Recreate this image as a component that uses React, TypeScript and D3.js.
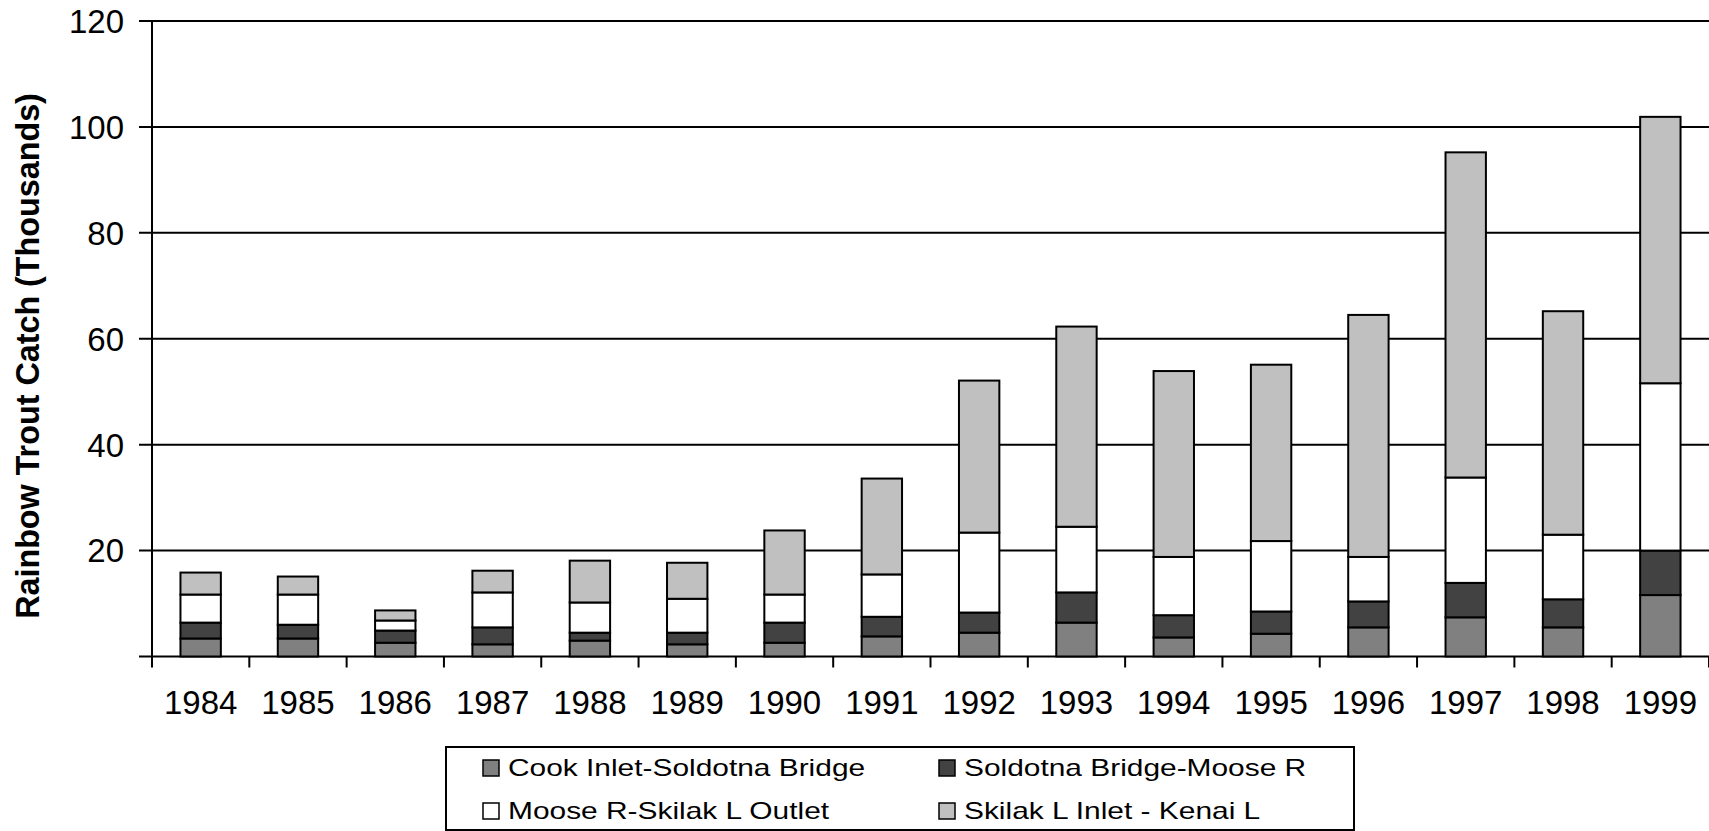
import React, { useEffect } from "react";
import * as d3 from "d3";

const years = ["1984","1985","1986","1987","1988","1989","1990","1991","1992","1993","1994","1995","1996","1997","1998","1999"];
const cookInlet = [3.4,3.4,2.6,2.3,3.0,2.3,2.6,3.8,4.5,6.4,3.6,4.3,5.5,7.4,5.5,11.6];
const soldotnaMoose = [3.0,2.6,2.3,3.2,1.5,2.2,3.8,3.7,3.8,5.7,4.2,4.2,4.9,6.5,5.3,8.4];
const mooseSkilak = [5.3,5.7,1.9,6.6,5.7,6.4,5.3,8.0,15.1,12.4,11.0,13.3,8.4,19.9,12.2,31.6];
const skilakKenai = [4.15,3.4,1.9,4.1,7.9,6.8,12.1,18.1,28.7,37.8,35.1,33.3,45.7,61.4,42.2,50.3];
const seriesNames = ["Cook Inlet-Soldotna Bridge","Soldotna Bridge-Moose R","Moose R-Skilak L Outlet","Skilak L Inlet - Kenai L"];
const seriesColors = ["#808080","#424242","#ffffff","#c0c0c0"];
const yTicks = [0,20,40,60,80,100,120];

const W = 1709, H = 831;
const M = { left: 152, right: 1709, top: 21, bottom: 656.5 };
const FONT = "'Liberation Sans', Arial, sans-serif";

export default function App() {
  useEffect(() => {
    document.body.style.margin = "0";
    document.body.style.overflow = "hidden";
  }, []);

  const rows = years.map((y, i) => ({
    year: y,
    s0: cookInlet[i], s1: soldotnaMoose[i], s2: mooseSkilak[i], s3: skilakKenai[i],
  }));
  const stack = d3.stack<any>().keys(["s0","s1","s2","s3"]);
  const stacked = stack(rows);

  const x = d3.scaleBand().domain(years).range([M.left, M.right]).padding(0);
  const y = d3.scaleLinear().domain([0, 120]).range([M.bottom, M.top]);
  const barW = x.bandwidth() * 0.415;

  return (
    <svg width={W} height={H} style={{ display: "block", background: "#fff" }}>
      {yTicks.map((t) => (
        <g key={t}>
          <line x1={139} x2={M.right} y1={y(t)} y2={y(t)} stroke="#000" strokeWidth={2} />
          {t > 0 && (
            <text x={124} y={y(t)} dy="0.36em" textAnchor="end" fontFamily={FONT} fontSize={33} fill="#000">
              {t}
            </text>
          )}
        </g>
      ))}
      <line x1={M.left} x2={M.left} y1={M.top} y2={M.bottom + 11} stroke="#000" strokeWidth={2} />
      {years.map((yr) => (
        <line key={"t" + yr} x1={(x(yr) as number) + x.bandwidth()} x2={(x(yr) as number) + x.bandwidth()} y1={M.bottom} y2={M.bottom + 11} stroke="#000" strokeWidth={2} />
      ))}
      {stacked.map((s, si) => (
        <g key={si}>
          {s.map((d, i) => {
            const cx = (x(years[i]) as number) + x.bandwidth() / 2;
            return (
              <rect key={i} x={cx - barW / 2} width={barW} y={y(d[1])} height={y(d[0]) - y(d[1])}
                fill={seriesColors[si]} stroke="#000" strokeWidth={2} />
            );
          })}
        </g>
      ))}
      {years.map((yr) => (
        <text key={"l" + yr} x={(x(yr) as number) + x.bandwidth() / 2} y={714} textAnchor="middle"
          fontFamily={FONT} fontSize={33} fill="#000">{yr}</text>
      ))}
      <text transform={`translate(${39},${356}) rotate(-90)`} textAnchor="middle" fontFamily={FONT}
        fontSize={32.3} fontWeight="bold" fill="#000">Rainbow Trout Catch (Thousands)</text>
      <rect x={446} y={747} width={908} height={83} fill="#fff" stroke="#000" strokeWidth={2} />
      {seriesNames.map((name, i) => {
        const col = i % 2, row = Math.floor(i / 2);
        const sx = col === 0 ? 483 : 939;
        const sy = row === 0 ? 760 : 803;
        return (
          <g key={name}>
            <rect x={sx} y={sy} width={16} height={16} fill={seriesColors[i]} stroke="#000" strokeWidth={1.5} />
            <g transform={`translate(${sx + 25},${sy + 16}) scale(1.3,1)`}>
              <text x={0} y={0} fontFamily={FONT} fontSize={23} fill="#000">{name}</text>
            </g>
          </g>
        );
      })}
    </svg>
  );
}
